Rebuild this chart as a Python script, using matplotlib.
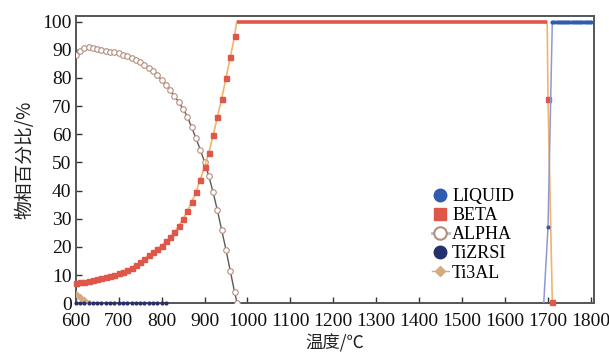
import matplotlib
matplotlib.use("Agg")
import matplotlib.pyplot as plt
from matplotlib.lines import Line2D

# ---- data (temperature in degC, phase fraction in %) ----
beta_temp = [600, 610, 620, 630, 640, 650, 660, 670, 680, 690,
             700, 710, 720, 730, 740, 750, 760, 770, 780, 790,
             800, 810, 820, 830, 840, 850, 860, 870, 880, 890,
             900, 910, 920, 930, 940, 950, 960, 970, 975, 1698, 1700, 1710]
beta_val = [7.3, 7.5, 7.7, 7.9, 8.2, 8.5, 8.9, 9.3, 9.7, 10.1,
            10.6, 11.2, 11.9, 12.7, 13.6, 14.6, 15.8, 17.0, 18.2, 19.4,
            20.4, 22.0, 23.5, 25.2, 27.4, 29.9, 32.8, 35.9, 39.6, 43.8,
            48.5, 53.5, 59.6, 66.0, 72.7, 80.0, 87.3, 94.8, 100, 100, 72.5, 0.5]

alpha_temp = [600, 610, 620, 630, 640, 650, 660, 670, 680, 690,
              700, 710, 720, 730, 740, 750, 760, 770, 780, 790,
              800, 810, 820, 830, 840, 850, 860, 870, 880, 890,
              900, 910, 920, 930, 940, 950, 960, 970, 976]
alpha_val = [88.3, 89.6, 90.6, 91.0, 90.8, 90.4, 90.0, 89.7, 89.4, 89.1,
             88.7, 88.3, 87.8, 87.2, 86.5, 85.7, 84.7, 83.7, 82.5, 81.0,
             79.3, 77.6, 75.7, 73.6, 71.4, 69.0, 66.3, 62.5, 58.6, 54.6,
             50.2, 45.2, 39.4, 33.0, 26.0, 19.0, 11.5, 4.0, 0.0]

liquid_temp = [1690, 1700, 1710, 1715, 1720, 1725, 1730, 1735, 1740, 1745,
               1750, 1755, 1760, 1765, 1770, 1775, 1780, 1785, 1790, 1795, 1800]
liquid_val = [0, 27, 100, 100, 100, 100, 100, 100, 100, 100,
              100, 100, 100, 100, 100, 100, 100, 100, 100, 100, 100]

tizrsi_temp = [600, 610, 620, 630, 640, 650, 660, 670, 680, 690, 700,
               710, 720, 730, 740, 750, 760, 770, 780, 790, 800, 810]
tizrsi_val = [0, 0, 0, 0, 0, 0, 0, 0, 0, 0, 0,
              0, 0, 0, 0, 0, 0, 0, 0, 0, 0, 0]

ti3al_temp = [600, 610, 620, 630]
ti3al_val = [3.3, 2.2, 1.0, 0.0]

x_ticks = [600, 700, 800, 900, 1000, 1100, 1200, 1300, 1400, 1500, 1600, 1700, 1800]
y_ticks = [0, 10, 20, 30, 40, 50, 60, 70, 80, 90, 100]

c_liquid = "#2f5cb0"
c_liquid_line = "#8e98d8"
c_beta = "#e0574a"
c_beta_line = "#f4b36a"
c_alpha = "#b58d7c"
c_alpha_line = "#5a5a5a"
c_tizrsi = "#27306e"
c_ti3al = "#d3aa82"

serif = ["Liberation Serif", "Noto Sans CJK SC", "DejaVu Sans"]
cjk = ["Noto Sans CJK SC", "Liberation Serif", "DejaVu Sans"]

fig = plt.figure(figsize=(6.09, 3.55), dpi=100)
ax = fig.add_axes([0.1243, 0.1456, 0.851, 0.8093])

# ALPHA
ax.plot(alpha_temp, alpha_val, color=c_alpha_line, lw=1.0, marker="o", ms=4.0,
        mfc="white", mec=c_alpha, mew=0.8, zorder=3)

# BETA: thin orange connector with square markers, thick red plateau
n = len(beta_temp)
ax.plot(beta_temp, beta_val, color=c_beta_line, lw=1.2, zorder=4)
ax.plot(beta_temp[n - 4:n - 2], beta_val[n - 4:n - 2], color=c_beta, lw=2.6,
        solid_capstyle="butt", zorder=4)
marks = list(range(0, n - 4)) + [n - 2, n - 1]
ax.plot([beta_temp[i] for i in marks], [beta_val[i] for i in marks], ls="none",
        marker="s", ms=3.6, color=c_beta, mec=c_beta, zorder=5, clip_on=False)

# Ti3AL
ax.plot(ti3al_temp, ti3al_val, color=c_ti3al, lw=1.0, marker="D", ms=3.0,
        mec=c_ti3al, zorder=4)

# TiZRSI
ax.plot(tizrsi_temp, tizrsi_val, color=c_tizrsi, ls="none", marker="o",
        ms=2.0, mec=c_tizrsi, zorder=5, clip_on=False)

# LIQUID
ax.plot(liquid_temp, liquid_val, color=c_liquid_line, lw=1.1, zorder=5)
ax.plot(liquid_temp[1:], liquid_val[1:], ls="none", marker="o", ms=2.0,
        color=c_liquid, mec=c_liquid, zorder=6, clip_on=False)

ax.set_xlim(600, 1807)
ax.set_ylim(0, 102)
ax.set_xticks(x_ticks)
ax.set_yticks(y_ticks)
ax.tick_params(direction="in", length=4, width=1.0, colors="#333333",
               labelcolor="#111111", labelsize=14)
ax.tick_params(axis="x", pad=7)
ax.tick_params(axis="y", pad=3)
for lab in ax.get_xticklabels() + ax.get_yticklabels():
    lab.set_family(serif)
for sp in ax.spines.values():
    sp.set_color("#555555")
    sp.set_linewidth(1.4)

ax.set_xlabel("温度/℃", family=cjk, fontsize=12.5, labelpad=3, color="#222222")
ax.set_ylabel("物相百分比/%", family=cjk, fontsize=13.5, labelpad=5, color="#222222")

handles = [
    Line2D([], [], ls="none", marker="o", ms=9, color=c_liquid),
    Line2D([], [], ls="none", marker="s", ms=9, color=c_beta),
    Line2D([], [], color="#bbbbbb", lw=2, marker="o", ms=9, mfc="white",
           mec=c_alpha, mew=1.5),
    Line2D([], [], ls="none", marker="o", ms=9, color=c_tizrsi),
    Line2D([], [], color=c_ti3al, lw=1, marker="D", ms=5, mec=c_ti3al),
]
labels = ["LIQUID", "BETA", "ALPHA", "TiZRSI", "Ti3AL"]
fig.legend(handles, labels, loc="upper left", bbox_to_anchor=(0.695, 0.496),
           frameon=False, prop={"family": serif, "size": 13}, handlelength=0.9,
           handletextpad=0.2, labelspacing=0.12, borderpad=0)

fig.savefig("out.png", dpi=100)
